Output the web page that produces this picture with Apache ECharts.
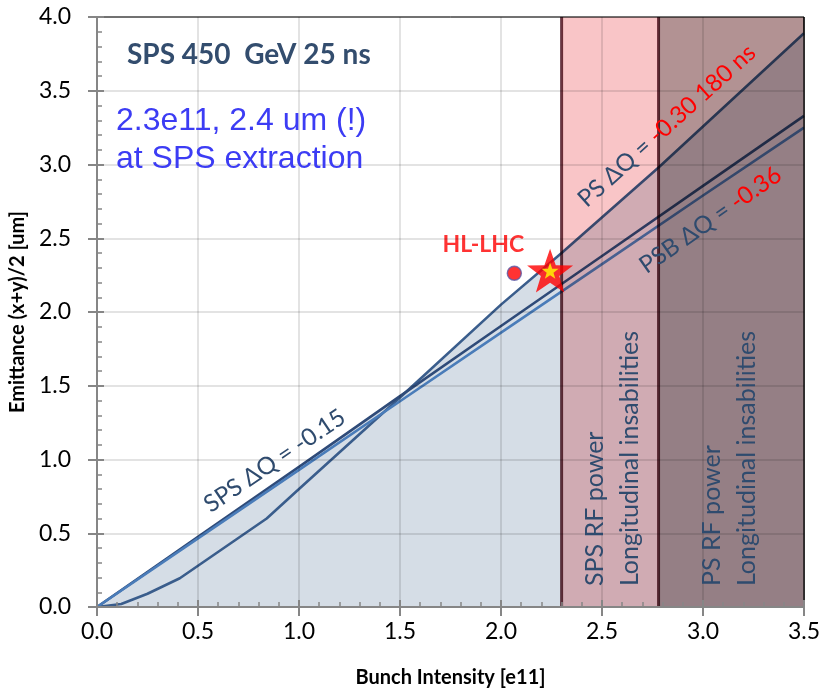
<!DOCTYPE html>
<html><head><meta charset="utf-8">
<script src="https://cdn.jsdelivr.net/npm/echarts@6/dist/echarts.min.js"></script>
<style>html,body{margin:0;padding:0;background:#fff}#c{width:825px;height:693px}</style>
</head><body><div id="c"></div>
<script>
// ---- data ----
const psX  = [0, 0.12, 0.25, 0.41, 0.5, 0.84, 1.0, 1.5, 2.0, 2.3, 2.78, 3.5];
const psY  = [0, 0.02, 0.09, 0.195, 0.28, 0.6, 0.8, 1.42, 2.05, 2.4, 2.98, 3.89];
const psbX = [0, 0.5, 1.0, 1.5, 2.0, 2.5, 3.0, 3.5];
const psbY = [0, 0.475, 0.95, 1.43, 1.905, 2.38, 2.855, 3.33];
const spsX = [0, 0.5, 1.0, 1.5, 2.0, 2.5, 3.0, 3.5];
const spsY = [0, 0.465, 0.93, 1.395, 1.86, 2.325, 2.79, 3.25];
const bandStart = [2.3, 2.78];
const bandEnd   = [2.78, 3.5];
const bandLine1 = ['SPS RF power', 'PS RF power'];
const bandLine2 = ['Longitudinal insabilities', 'Longitudinal insabilities'];
const hlPoint   = [2.066, 2.263];
const starPoint = [2.243, 2.28];
const xTickLabels = ['0.0','0.5','1.0','1.5','2.0','2.5','3.0','3.5'];
const yTickLabels = ['0.0','0.5','1.0','1.5','2.0','2.5','3.0','3.5','4.0'];

const pairs = (xs, ys) => xs.map((x, i) => [x, ys[i]]);
const CAL = 'Lato, "Open Sans", sans-serif';
const NAVY = '#2f4b6e';
const bandColors = ['#f9c5c7', '#b29293'];
const STAR = 'path://M0,-10L2.35,-3.24L9.51,-3.09L3.8,1.24L5.88,8.09L0,4L-5.88,8.09L-3.8,1.24L-9.51,-3.09L-2.35,-3.24Z';

const chart = echarts.init(document.getElementById('c'), null, {renderer: 'canvas'});

const baseX = {type: 'value', min: 0, max: 3.5, interval: 0.5, position: 'bottom'};
const baseY = {type: 'value', min: 0, max: 4, interval: 0.5, position: 'left'};

const areaSeries = (data) => ({
  type: 'line', data, showSymbol: false, symbol: 'none', silent: true, z: 1,
  lineStyle: {width: 0, opacity: 0},
  areaStyle: {color: '#d5dde6', opacity: 1}
});
const lineSeries = (data, color) => ({
  type: 'line', data, showSymbol: false, symbol: 'none', silent: true, z: 3,
  lineStyle: {width: 2.6, color}
});

chart.setOption({
  animation: false,
  backgroundColor: '#ffffff',
  grid: {left: 97, right: 21, top: 17, bottom: 84, show: true, borderColor: '#000', borderWidth: 1, backgroundColor: 'transparent'},
  xAxis: [
    Object.assign({}, baseX, {
      z: 10,
      axisLine: {lineStyle: {color: '#868686', width: 2}},
      axisTick: {length: 9, lineStyle: {color: '#868686', width: 2}},
      axisLabel: {fontSize: 23, fontFamily: CAL, color: '#000', margin: 13,
        formatter: v => xTickLabels[Math.round(v / 0.5)]},
      splitLine: {show: false},
      name: 'Bunch Intensity [e11]', nameLocation: 'middle', nameGap: 61,
      nameTextStyle: {fontSize: 20, fontWeight: 'bold', fontFamily: CAL, color: '#000'}
    }),
    Object.assign({}, baseX, {
      z: 10,
      axisLine: {show: false},
      axisTick: {inside: true, length: 7, lineStyle: {color: '#868686', width: 2}},
      minorTick: {show: true, splitNumber: 5, length: 5, lineStyle: {color: '#868686', width: 1.5}},
      axisLabel: {show: false},
      splitLine: {show: true, lineStyle: {color: 'rgba(0,0,0,0.15)', width: 1.5}}
    })
  ],
  yAxis: [
    Object.assign({}, baseY, {
      z: 10,
      axisLine: {show: true, lineStyle: {color: '#868686', width: 2}},
      axisTick: {show: true, length: 9, lineStyle: {color: '#868686', width: 2}},
      axisLabel: {fontSize: 23, fontFamily: CAL, color: '#000', margin: 26,
        formatter: v => yTickLabels[Math.round(v / 0.5)]},
      splitLine: {show: false},
      name: 'Emittance (x+y)/2 [um]', nameLocation: 'middle', nameGap: 65, nameRotate: 90,
      nameTextStyle: {fontSize: 20, fontWeight: 'bold', fontFamily: CAL, color: '#000'}
    }),
    Object.assign({}, baseY, {
      z: 10,
      axisLine: {show: false},
      axisTick: {show: true, inside: true, length: 7, lineStyle: {color: '#868686', width: 2}},
      minorTick: {show: true, splitNumber: 5, length: 5, lineStyle: {color: '#868686', width: 1.5}},
      axisLabel: {show: false},
      splitLine: {show: true, lineStyle: {color: 'rgba(0,0,0,0.15)', width: 1.5}}
    })
  ],
  series: [
    areaSeries(pairs(psX, psY)),
    areaSeries(pairs(psbX, psbY)),
    lineSeries(pairs(psX, psY), '#3a5d8c'),
    lineSeries(pairs(psbX, psbY), '#2f4b79'),
    lineSeries(pairs(spsX, spsY), '#4a7cb9'),
    {
      type: 'custom', z: 4, silent: true, blendMode: 'multiply',
      data: bandStart.map((s, i) => [s, bandEnd[i]]),
      encode: {x: [0, 1]},
      renderItem: function (params, api) {
        const p0 = api.coord([api.value(0), 4]);
        const p1 = api.coord([api.value(1), 0]);
        const children = [
          {type: 'rect', shape: {x: p0[0], y: p0[1], width: p1[0] - p0[0], height: p1[1] - p0[1]},
           style: {fill: bandColors[params.dataIndex]}},
          {type: 'line', shape: {x1: p0[0], y1: p0[1], x2: p0[0], y2: p1[1]},
           style: {stroke: '#6b3a46', lineWidth: 3}}
        ];
        if (params.dataIndex === bandStart.length - 1) {
          children.push({type: 'line', shape: {x1: p1[0], y1: p0[1], x2: p1[0], y2: p1[1]},
            style: {stroke: '#333', lineWidth: 1.5}});
        }
        return {type: 'group', children};
      }
    },
    {
      type: 'scatter', z: 6, silent: true,
      data: [hlPoint], symbol: 'circle', symbolSize: 14,
      itemStyle: {color: '#ff0000', borderColor: '#5b5ba8', borderWidth: 1.5},
      label: {show: true, formatter: 'HL-LHC', position: 'top', offset: [-31, -4],
        fontSize: 23, fontWeight: 'bold', fontFamily: CAL, color: '#ff0000'}
    },
    {
      type: 'scatter', z: 6, silent: true,
      data: [starPoint], symbol: STAR, symbolSize: 46, symbolKeepAspect: true,
      itemStyle: {color: '#ff0000'}
    },
    {
      type: 'scatter', z: 7, silent: true,
      data: [starPoint], symbol: STAR, symbolSize: 17, symbolKeepAspect: true,
      itemStyle: {color: '#ffff00'}
    }
  ]
});

// ---- annotations anchored in data coordinates ----
const px = (p) => chart.convertToPixel({xAxisIndex: 0, yAxisIndex: 0}, p);
const deg = Math.PI / 180;
const spsLab = px([0.88, 0.991]);
const psLab = px([2.821, 3.262]);
const psbLab = px([3.037, 2.623]);
const bandTextX = [[2.465, 2.638], [3.044, 3.217]];
const bandTextY = 0.142;

const graphic = [
  {type: 'text', z: 20, x: 127, y: 55, style: {text: 'SPS 450  GeV 25 ns', fontSize: 28, fontWeight: 'bold',
    fontFamily: CAL, fill: '#334d6e', textVerticalAlign: 'middle'}},
  {type: 'text', z: 20, x: 116, y: 121, style: {text: '2.3e11, 2.4 um (!)', fontSize: 32,
    fontFamily: '"Liberation Sans", Arial, sans-serif', fill: '#3c3cf4', textVerticalAlign: 'middle'}},
  {type: 'text', z: 20, x: 116, y: 159, style: {text: 'at SPS extraction', fontSize: 32,
    fontFamily: '"Liberation Sans", Arial, sans-serif', fill: '#3c3cf4', textVerticalAlign: 'middle'}},
  {type: 'text', z: 20, x: spsLab[0], y: spsLab[1], rotation: 34 * deg,
    style: {text: 'SPS \u0394Q = -0.15', fontSize: 24, fontFamily: CAL, fill: NAVY,
      textAlign: 'center', textVerticalAlign: 'middle'}},
  {type: 'text', z: 20, x: psLab[0], y: psLab[1], rotation: 42 * deg,
    style: {text: '{a|PS \u0394Q = }{b|-0.30 180 ns}', textAlign: 'center', textVerticalAlign: 'middle',
      rich: {a: {fontSize: 24, fontFamily: CAL, fill: NAVY, color: NAVY},
             b: {fontSize: 24, fontFamily: CAL, fill: '#ff0000', color: '#ff0000'}}}},
  {type: 'text', z: 20, x: psbLab[0], y: psbLab[1], rotation: 35 * deg,
    style: {text: '{a|PSB \u0394Q = }{b|-0.36}', textAlign: 'center', textVerticalAlign: 'middle',
      rich: {a: {fontSize: 24, fontFamily: CAL, fill: NAVY, color: NAVY},
             b: {fontSize: 24, fontFamily: CAL, fill: '#ff0000', color: '#ff0000'}}}}
];
bandTextX.forEach((xs, i) => {
  [bandLine1[i], bandLine2[i]].forEach((t, j) => {
    const p = px([xs[j], bandTextY]);
    graphic.push({type: 'text', z: 20, x: p[0], y: p[1], rotation: 90 * deg,
      style: {text: t, fontSize: 25, fontFamily: CAL, fill: NAVY, textAlign: 'left', textVerticalAlign: 'middle'}});
  });
});
chart.setOption({graphic});
</script>
</body></html>
